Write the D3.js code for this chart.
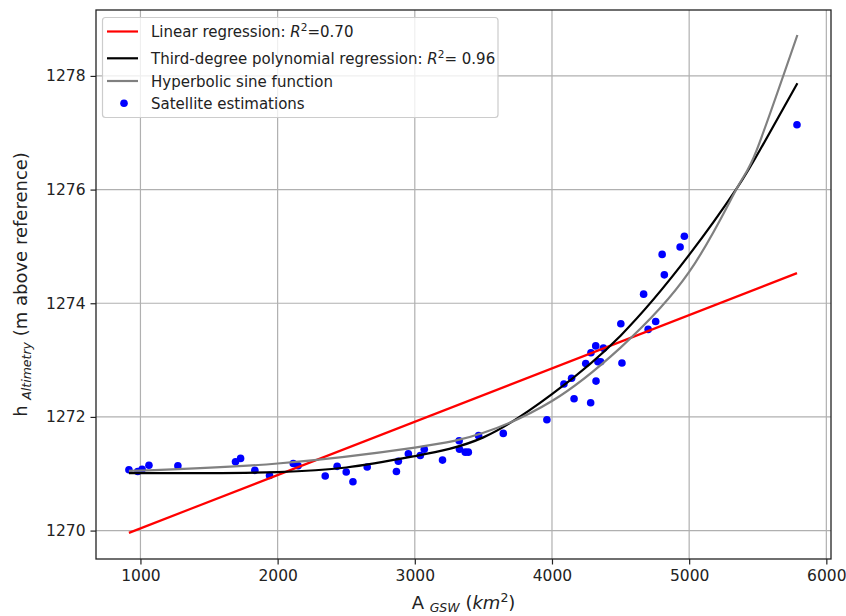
<!DOCTYPE html>
<html>
<head>
<meta charset="utf-8">
<script src="https://cdn.jsdelivr.net/npm/d3@7"></script>
<style>
  html, body { margin: 0; padding: 0; background: #fff; }
  svg { display: block; font-family: "DejaVu Sans", sans-serif; }
</style>
</head>
<body>
<svg id="chart" width="846" height="616"></svg>
<script>
// Lake area (km²) vs altimetry water level (m)
const areaKm2 = [916, 980, 1012, 1062, 1273, 1693, 1730, 1834, 1941, 2114, 2149, 2347, 2434, 2500, 2549, 2653,
  2866, 2880, 2953, 3040, 3069, 3202, 3323, 3326, 3368, 3390, 3465, 3645, 3963, 4087, 4143, 4161, 4246, 4284,
  4319, 4375, 4282, 4321, 4335, 4355, 4510, 4502, 4701, 4756, 4668, 4819, 4803, 4934, 4965, 5786];
const levelM = [1271.07, 1271.04, 1271.08, 1271.15, 1271.14, 1271.21, 1271.27, 1271.06, 1270.97, 1271.18, 1271.14,
  1270.96, 1271.13, 1271.03, 1270.86, 1271.12, 1271.04, 1271.22, 1271.35, 1271.32, 1271.43, 1271.24, 1271.58,
  1271.43, 1271.38, 1271.38, 1271.67, 1271.71, 1271.95, 1272.58, 1272.68, 1272.32, 1272.94, 1273.13, 1273.25,
  1273.21, 1272.25, 1272.63, 1272.97, 1272.97, 1272.95, 1273.64, 1273.54, 1273.68, 1274.16, 1274.50, 1274.86,
  1274.99, 1275.18, 1277.14];

// Fitted models, sampled along the area range
const linearX = [916, 5786];
const linearY = [1269.96, 1274.53];
const polyX = [916, 1500, 2000, 2500, 3000, 3500, 4000, 4500, 5000, 5347, 5517, 5789];
const polyY = [1271.01, 1271.01, 1271.03, 1271.11, 1271.31, 1271.64, 1272.40, 1273.43, 1274.85, 1276.02, 1276.70, 1277.87];
const sinhX = [916, 2000, 3000, 3500, 4000, 4500, 5000, 5347, 5493, 5789];
const sinhY = [1271.05, 1271.18, 1271.46, 1271.72, 1272.28, 1273.22, 1274.55, 1276.02, 1276.70, 1278.72];

const xTicks = [1000, 2000, 3000, 4000, 5000, 6000];
const yTicks = [1270, 1272, 1274, 1276, 1278];

const legendLabels = [
  { kind: "line", color: "red", parts: [["Linear regression: ", ""], ["R", "i"], ["2", "sup"], ["=0.70", ""]] },
  { kind: "line", color: "black", parts: [["Third-degree polynomial regression: ", ""], ["R", "i"], ["2", "sup"], ["= 0.96", ""]] },
  { kind: "line", color: "gray", parts: [["Hyperbolic sine function", ""]] },
  { kind: "dot", color: "blue", parts: [["Satellite estimations", ""]] }
];

const svg = d3.select("#chart");
const plot = { left: 96, right: 831, top: 10, bottom: 559 };

const x = d3.scaleLinear().domain([676, 6034]).range([plot.left, plot.right]);
const y = d3.scaleLinear().domain([1269.50, 1279.16]).range([plot.bottom, plot.top]);

// grid
const grid = svg.append("g").attr("stroke", "#b0b0b0").attr("stroke-width", 1.2);
grid.selectAll(".gx").data(xTicks).join("line")
  .attr("x1", d => x(d)).attr("x2", d => x(d))
  .attr("y1", plot.top).attr("y2", plot.bottom);
grid.selectAll(".gy").data(yTicks).join("line")
  .attr("y1", d => y(d)).attr("y2", d => y(d))
  .attr("x1", plot.left).attr("x2", plot.right);

// satellite points
svg.append("g").selectAll("circle")
  .data(areaKm2.map((a, i) => [a, levelM[i]]))
  .join("circle")
  .attr("cx", d => x(d[0])).attr("cy", d => y(d[1]))
  .attr("r", 3.8).attr("fill", "blue");

// model curves
const line = d3.line().x(d => x(d[0])).y(d => y(d[1]));
const smooth = d3.line().x(d => x(d[0])).y(d => y(d[1])).curve(d3.curveNatural);
svg.append("path").datum(linearX.map((v, i) => [v, linearY[i]]))
  .attr("d", line).attr("fill", "none").attr("stroke", "red").attr("stroke-width", 2.2);
svg.append("path").datum(polyX.map((v, i) => [v, polyY[i]]))
  .attr("d", smooth).attr("fill", "none").attr("stroke", "black").attr("stroke-width", 2.2);
svg.append("path").datum(sinhX.map((v, i) => [v, sinhY[i]]))
  .attr("d", smooth).attr("fill", "none").attr("stroke", "gray").attr("stroke-width", 2.2);

// axes
const xAxis = svg.append("g").attr("transform", `translate(0,${plot.bottom})`)
  .call(d3.axisBottom(x).tickValues(xTicks).tickSize(5.5).tickPadding(5).tickFormat(d3.format("d")));
const yAxis = svg.append("g").attr("transform", `translate(${plot.left},0)`)
  .call(d3.axisLeft(y).tickValues(yTicks).tickSize(5.5).tickPadding(5).tickFormat(d3.format("d")));
[xAxis, yAxis].forEach(g => {
  g.select(".domain").remove();
  g.selectAll("line").attr("stroke", "#222").attr("stroke-width", 1.2);
  g.selectAll("text").attr("fill", "#222").style("font-size", "15.5px").style("font-family", "DejaVu Sans");
});

// frame
svg.append("rect").attr("x", plot.left).attr("y", plot.top)
  .attr("width", plot.right - plot.left).attr("height", plot.bottom - plot.top)
  .attr("fill", "none").attr("stroke", "#222").attr("stroke-width", 1.3);

// axis titles
const xl = svg.append("text").attr("x", (plot.left + plot.right) / 2).attr("y", 609)
  .attr("text-anchor", "middle").attr("fill", "#222").style("font-size", "18px");
xl.append("tspan").text("A ");
xl.append("tspan").text("GSW").style("font-style", "italic").style("font-size", "12.5px").attr("dy", 3);
xl.append("tspan").text(" (").attr("dy", -3);
xl.append("tspan").text("km").style("font-style", "italic");
xl.append("tspan").text("2").style("font-size", "12.5px").attr("dy", -7);
xl.append("tspan").text(")").attr("dy", 7);

const yl = svg.append("text")
  .attr("transform", `translate(27,${(plot.top + plot.bottom) / 2}) rotate(-90)`)
  .attr("text-anchor", "middle").attr("fill", "#222").style("font-size", "18px");
yl.append("tspan").text("h ");
yl.append("tspan").text("Altimetry").style("font-style", "italic").style("font-size", "12.5px").attr("dy", 4);
yl.append("tspan").text(" (m above reference)").attr("dy", -4);

// legend
const lg = svg.append("g");
lg.append("rect").attr("x", 102.5).attr("y", 17.5).attr("width", 395.5).attr("height", 100)
  .attr("rx", 3).attr("fill", "white").attr("fill-opacity", 0.8)
  .attr("stroke", "#cccccc").attr("stroke-width", 1.2);
const rowY = [31.5, 58.3, 81, 103.3];
legendLabels.forEach((item, i) => {
  const cy = rowY[i];
  if (item.kind === "line") {
    lg.append("line").attr("x1", 107).attr("x2", 138).attr("y1", cy).attr("y2", cy)
      .attr("stroke", item.color).attr("stroke-width", 2.2);
  } else {
    lg.append("circle").attr("cx", 124).attr("cy", cy).attr("r", 3.8).attr("fill", item.color);
  }
  const t = lg.append("text").attr("x", 151).attr("y", cy + 5.5).attr("fill", "#222").style("font-size", "15px");
  let shifted = false;
  item.parts.forEach(([s, k]) => {
    const sp = t.append("tspan").text(s);
    if (k === "i") sp.style("font-style", "italic");
    if (k === "sup") { sp.style("font-size", "10.5px").attr("dy", -6); shifted = true; }
    else if (shifted) { sp.attr("dy", 6); shifted = false; }
  });
});
</script>
</body>
</html>
